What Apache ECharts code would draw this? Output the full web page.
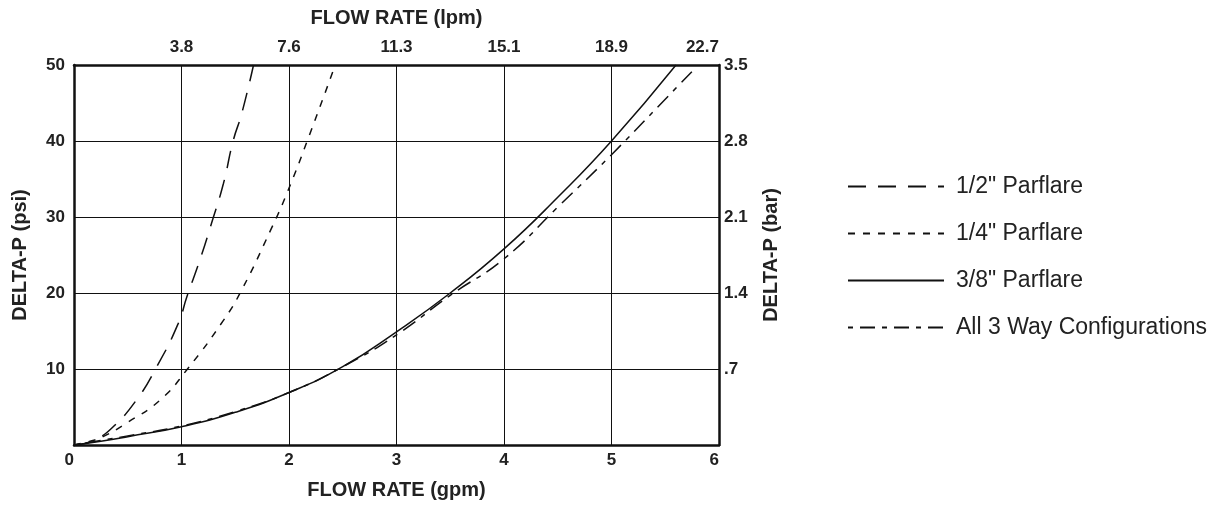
<!DOCTYPE html>
<html>
<head>
<meta charset="utf-8">
<script src="https://cdn.jsdelivr.net/npm/echarts@6/dist/echarts.min.js"></script>
<style>
html,body{margin:0;padding:0;background:#fff;}
#c1{width:1225px;height:505px;}
</style>
</head>
<body>
<div id="c1"></div>
<script type="text/javascript">
// flow rate (gpm) vs delta-p (psi)
var halfParflare = [[0,0],[0.1,0.2],[0.2,0.7],[0.35,2.2],[0.58,5.9],[0.77,10.3],[0.97,16],[1.05,19.5],[1.17,24.3],[1.28,29.2],[1.39,34.4],[1.48,40],[1.56,43.6],[1.67,50]];
var quarterParflare = [[0,0],[0.15,0.5],[0.27,1.1],[0.49,2.9],[0.8,5.9],[1.05,9.9],[1.39,16.4],[1.56,20.4],[1.83,28.3],[1.98,33.1],[2.18,40.4],[2.43,50]];
var threeEighthParflare = [[0,0],[0.25,0.5],[0.5,1.1],[1,2.4],[1.5,4.3],[2,6.9],[2.5,10.3],[3,14.9],[3.5,20],[4,25.8],[4.5,32.6],[5,40],[5.6,50]];
var threeWay = [[0,0],[0.25,0.6],[0.5,1.2],[1,2.5],[1.5,4.4],[2,6.9],[2.5,10.3],[3,14.5],[3.5,19.7],[4,24.5],[4.5,31.3],[5,38.2],[5.5,45.5],[5.78,49.6]];

var seriesNames = ['1/2" Parflare','1/4" Parflare','3/8" Parflare','All 3 Way Configurations'];
// secondary tick labels
var lpmLabels = ['','3.8','7.6','11.3','15.1','18.9','22.7'];
var barLabels = ['','.7','1.4','2.1','2.8','3.5'];

var chart = echarts.init(document.getElementById('c1'));
var font = 'Liberation Sans, Arial, sans-serif';
var lbl = {color:'#222',fontSize:17,fontWeight:'bold',fontFamily:font};
var nameSt = {color:'#222',fontSize:20,fontWeight:'bold',fontFamily:font};
var frame = {show:true,onZero:false,lineStyle:{color:'#111',width:2.5}};
var split = {show:true,lineStyle:{color:'#111',width:1}};

function lineSeries(name,data,type){
    return {
        name:name,
        type:'line',
        smooth:true,
        symbol:'none',
        color:'#111',
        xAxisIndex:0,
        yAxisIndex:0,
        lineStyle:{color:'#111',width:1.5,type:type},
        data:data
    }
}

var option = {
    animation:false,
    backgroundColor:'#fff',
    grid:{left:74,right:506,top:65,bottom:60},
    legend:{
        orient:'vertical',
        left:842,
        top:170,
        itemWidth:96,
        itemHeight:24,
        itemGap:24,
        itemStyle:{opacity:0},
        textStyle:{color:'#222',fontSize:23,fontFamily:font,padding:[0,0,0,7]},
        data:seriesNames
    },
    xAxis:[
        {
            type:'value',position:'bottom',min:0,max:6,interval:1,
            name:'FLOW RATE (gpm)',nameLocation:'middle',nameGap:35,nameTextStyle:nameSt,
            axisLine:frame,axisTick:{show:false},splitLine:split,
            axisLabel:Object.assign({margin:7,alignMinLabel:'right',alignMaxLabel:'right'},lbl)
        },
        {
            type:'value',position:'top',min:0,max:6,interval:1,
            name:'FLOW RATE (lpm)',nameLocation:'middle',nameGap:37,nameTextStyle:nameSt,
            axisLine:frame,axisTick:{show:false},splitLine:{show:false},
            axisLabel:Object.assign({margin:9,alignMaxLabel:'right',formatter:function(v){return lpmLabels[Math.round(v)]}},lbl)
        }
    ],
    yAxis:[
        {
            type:'value',position:'left',min:0,max:50,interval:10,
            name:'DELTA-P (psi)',nameLocation:'middle',nameRotate:90,nameGap:44,nameTextStyle:nameSt,
            axisLine:frame,axisTick:{show:false},splitLine:split,
            axisLabel:Object.assign({margin:9,formatter:function(v){return v===0?'':v}},lbl)
        },
        {
            type:'value',position:'right',min:0,max:50,interval:10,
            name:'DELTA-P (bar)',nameLocation:'middle',nameRotate:90,nameGap:42,nameTextStyle:nameSt,
            axisLine:frame,axisTick:{show:false},splitLine:{show:false},
            axisLabel:Object.assign({margin:5,formatter:function(v){return barLabels[Math.round(v/10)]}},lbl)
        }
    ],
    series:[
        lineSeries(seriesNames[0],halfParflare,[18,12]),
        lineSeries(seriesNames[1],quarterParflare,[7,8]),
        lineSeries(seriesNames[2],threeEighthParflare,'solid'),
        lineSeries(seriesNames[3],threeWay,[5,7,15,7])
    ]
};
chart.setOption(option);
</script>
</body>
</html>
